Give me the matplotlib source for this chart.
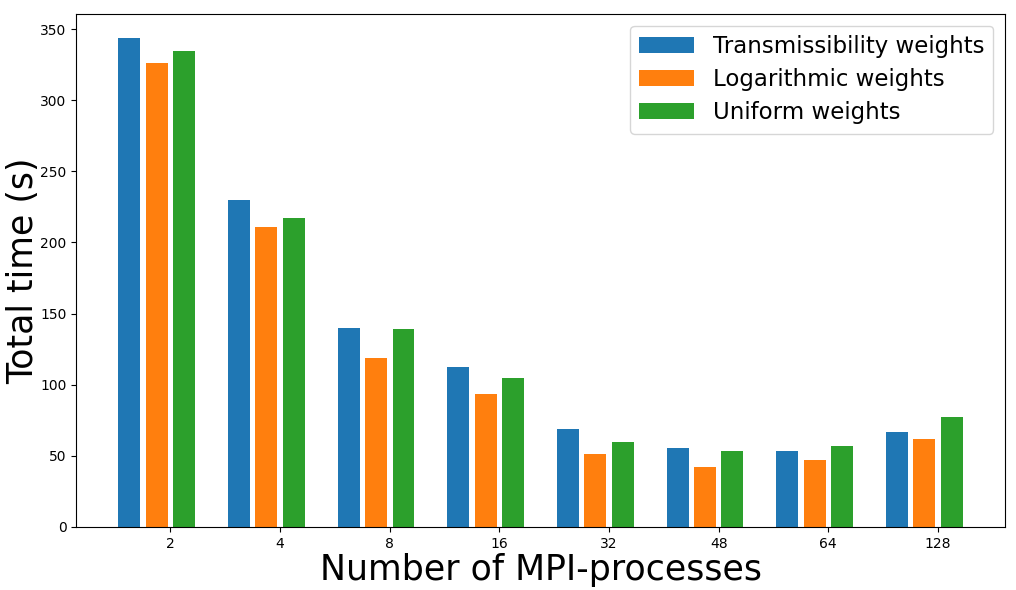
import numpy as np
import matplotlib
matplotlib.use('Agg')
import matplotlib.pyplot as plt

# data
processes = ['2', '4', '8', '16', '32', '48', '64', '128']
transmissibility = [343.5, 229.8, 139.5, 112.2, 68.5, 55.6, 53.6, 66.5]
logarithmic = [326.5, 211.0, 118.5, 93.3, 51.5, 42.0, 46.8, 61.5]
uniform = [334.5, 217.0, 138.8, 104.8, 59.8, 53.6, 57.0, 77.0]

x = np.arange(len(processes))
w = 0.25

fig = plt.figure(figsize=(10.16, 5.9), dpi=100)
ax = fig.add_axes([0.075, 0.107, 0.914, 0.869])

ax.bar(x, transmissibility, 0.2, color='#1f77b4', label='Transmissibility weights')
ax.bar(x + w, logarithmic, 0.2, color='#ff7f0e', label='Logarithmic weights')
ax.bar(x + 2 * w, uniform, 0.2, color='#2ca02c', label='Uniform weights')

ax.set_xticks(x + 1.5 * w)
ax.set_xticklabels(processes)
ax.tick_params(labelsize=10)
ax.set_ylim(0, 360.5)
ax.set_xlabel('Number of MPI-processes', fontsize=25, labelpad=2)
ax.set_ylabel('Total time (s)', fontsize=25, labelpad=0)
ax.legend(fontsize=16.5, loc='upper right', handlelength=2.4, labelspacing=0.45)

fig.savefig('out.png', dpi=100)
